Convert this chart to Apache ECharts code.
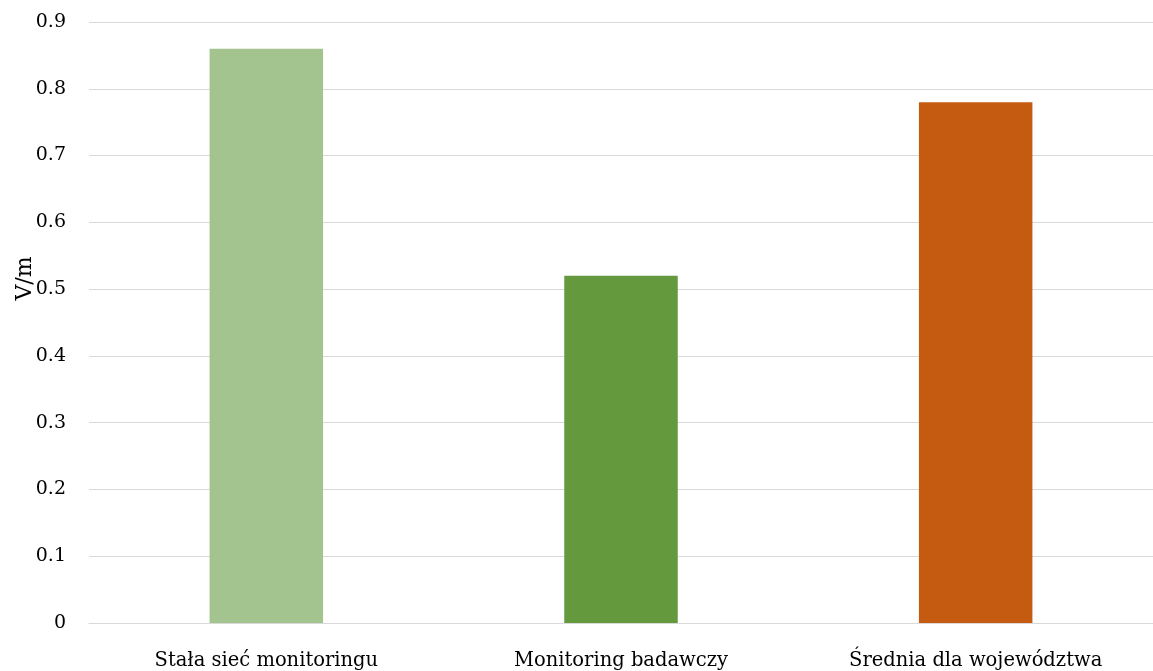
<!DOCTYPE html>
<html>
<head>
<meta charset="utf-8">
<script src="https://cdn.jsdelivr.net/npm/echarts@6/dist/echarts.min.js"></script>
<style>
  html, body { margin: 0; padding: 0; background: #fff; }
  #chart { width: 1153px; height: 671px; }
</style>
</head>
<body>
<div id="chart"></div>
<script>
// dane
var categories = ['Stała sieć monitoringu', 'Monitoring badawczy', 'Średnia dla województwa'];
var values = [0.86, 0.52, 0.78];
var barColors = ['#A3C48F', '#64993E', '#C55A11'];
var yTicks = [0, 0.1, 0.2, 0.3, 0.4, 0.5, 0.6, 0.7, 0.8, 0.9];

var font = 'DejaVu Serif';
var chart = echarts.init(document.getElementById('chart'));
var option = {
  backgroundColor: '#fff',
  animation: false,
  grid: {
    left: 89,
    right: 0,
    top: 22,
    bottom: 48,
    outerBoundsMode: 'none'
  },
  xAxis: {
    type: 'category',
    data: categories,
    axisTick: { show: false },
    axisLine: { lineStyle: { color: '#d9d9d9', width: 1 } },
    axisLabel: {
      color: '#000',
      fontFamily: font,
      fontSize: 19.5,
      margin: 28
    }
  },
  yAxis: {
    type: 'value',
    min: yTicks[0],
    max: yTicks[yTicks.length - 1],
    interval: 0.1,
    name: 'V/m',
    nameLocation: 'middle',
    nameRotate: 90,
    nameGap: 53,
    nameMoveOverlap: false,
    nameTextStyle: { color: '#000', fontFamily: font, fontSize: 22, padding: [0, 0, 0, 88] },
    axisLine: { show: false },
    axisTick: { show: false },
    splitLine: { lineStyle: { color: '#d9d9d9', width: 1 } },
    axisLabel: {
      color: '#000',
      fontFamily: font,
      fontSize: 19,
      margin: 23,
      formatter: function (v) { return String(Math.round(v * 10) / 10); }
    }
  },
  series: [{
    type: 'bar',
    barWidth: '32%',
    data: values.map(function (v, i) {
      return { value: v, itemStyle: { color: barColors[i] } };
    })
  }]
};
chart.setOption(option);
</script>
</body>
</html>
